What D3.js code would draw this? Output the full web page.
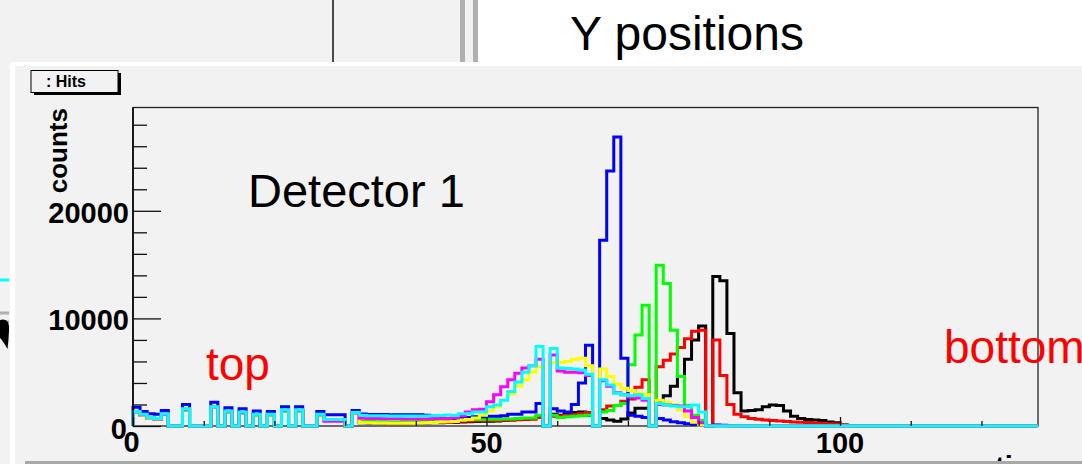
<!DOCTYPE html>
<html><head><meta charset="utf-8">
<script src="https://cdn.jsdelivr.net/npm/d3@7"></script>
<style>
html,body{margin:0;padding:0;background:#fff;overflow:hidden;}
svg{display:block;font-family:"Liberation Sans",Arial,Helvetica,sans-serif;}
</style>
</head><body>
<svg id="chart" width="1082" height="464"></svg>
<script>
// ---------------- data ----------------
const xTickMajor = [0, 50, 100];
const xTickMinor = [10, 20, 30, 40, 60, 70, 80, 90, 110, 120];
const yTickMajor = [0, 10000, 20000];
const yTickMinor = [2000, 4000, 6000, 8000, 12000, 14000, 16000, 18000, 22000, 24000, 26000, 28000];
const xDomain = [0, 128];
const yDomain = [0, 29600];
const seriesNames = ["black", "red", "green", "blue", "yellow", "magenta", "cyan"];
const seriesColors = ["#000000", "#ff0000", "#00ff00", "#0000ff", "#ffff00", "#ff00ff", "#00ffff"];

const black = [
 1250,1000,720,620,1070,0,0,1520,0,0,0,1720,0,1320,0,1220,
 0,1020,0,1020,0,1420,0,1420,0,0,1020,500,500,500,0,1170,
 300,290,280,270,260,260,260,270,280,290,300,310,320,330,380,400,
 420,430,450,470,500,550,600,650,700,850,0,1100,1000,1150,1250,1300,
 1000,0,700,550,450,650,1200,1650,1650,0,2300,2800,3700,4600,6200,8000,
 9300,0,13900,13500,8600,3100,1400,1450,1500,1800,1950,1900,1400,900,700,600,
 550,500,380,300,100,50,0,0,0,0,0,0,0,0,0,0,
 0,0,0,0,0,0,0,0,0,0,0,0,0,0,0,0];
const red = [
 1250,1000,720,620,1070,0,0,1520,0,0,0,1720,0,1320,0,1220,
 0,1020,0,1020,0,1420,0,1420,0,0,1020,500,500,500,0,1170,
 350,340,330,320,310,300,300,300,310,320,330,340,350,370,450,470,
 480,490,500,520,530,550,580,600,620,800,0,900,950,1000,1050,1150,
 1250,0,1500,1850,1900,2300,2500,3600,4300,0,5500,6100,6700,7300,8100,8800,
 8900,0,8000,4700,2000,1100,850,700,620,560,500,460,420,380,350,320,
 290,260,220,180,100,50,0,0,0,0,0,0,0,0,0,0,
 0,0,0,0,0,0,0,0,0,0,0,0,0,0,0,0];
const green = [
 1250,1000,720,620,1070,0,0,1520,0,0,0,1720,0,1320,0,1220,
 0,1020,0,1020,0,1420,0,1420,0,0,1020,500,500,500,0,1170,
 420,410,400,390,380,380,390,400,420,440,470,480,430,450,560,580,
 600,600,620,620,640,650,700,750,750,1000,0,1000,800,850,900,950,
 1000,0,1300,1450,1900,2100,5700,8450,11230,0,14950,13250,8900,4600,1900,1000,
 500,0,80,50,30,0,0,0,0,0,0,0,0,0,0,0,
 0,0,0,0,0,0,0,0,0,0,0,0,0,0,0,0,
 0,0,0,0,0,0,0,0,0,0,0,0,0,0,0,0];
const blue = [
 1750,1350,1150,1100,1450,0,0,2000,0,0,0,2200,0,1700,0,1600,
 0,1400,0,1350,0,1800,0,1800,0,0,1350,1050,1050,1050,0,1450,
 1120,1070,1070,1070,1050,1050,1040,1040,1040,1000,900,750,600,650,800,800,
 850,850,900,900,950,1100,1100,1300,1300,2100,0,1600,1400,1300,2000,4000,
 7500,0,17270,23700,26860,6300,1000,900,800,0,700,550,400,300,200,150,
 100,0,100,60,30,0,0,0,0,0,0,0,0,0,0,0,
 0,0,0,0,0,0,0,0,0,0,0,0,0,0,0,0,
 0,0,0,0,0,0,0,0,0,0,0,0,0,0,0,0];
const yellow = [
 1250,1000,720,620,1070,0,0,1520,0,0,0,1720,0,1320,0,1220,
 0,1020,0,1020,0,1420,0,1420,0,0,1020,500,500,500,0,1170,
 320,300,280,270,260,250,250,260,280,300,330,370,400,420,550,600,
 750,1000,1400,1800,2400,3000,3700,4300,5000,5500,0,5900,5900,6000,6200,6300,
 5600,0,5300,4600,3900,3500,3300,3100,2900,0,2400,2200,2000,1500,900,350,
 100,0,0,0,0,0,0,0,0,0,0,0,0,0,0,0,
 0,0,0,0,0,0,0,0,0,0,0,0,0,0,0,0,
 0,0,0,0,0,0,0,0,0,0,0,0,0,0,0,0];
const magenta = [
 1300,1050,760,660,1100,0,0,1560,0,0,0,1760,0,1360,0,1260,
 0,1060,0,1060,0,1460,0,1460,0,0,1060,450,450,450,0,1200,
 720,700,690,680,680,670,660,660,650,660,680,690,700,750,950,1300,
 1500,1550,2250,2900,3650,4300,4900,5400,5600,6200,0,6600,5100,5000,5000,4950,
 4700,0,4200,3700,3100,2900,2700,2600,2400,0,2000,1950,1900,1850,1400,800,
 300,0,0,0,0,0,0,0,0,0,0,0,0,0,0,0,
 0,0,0,0,0,0,0,0,0,0,0,0,0,0,0,0,
 0,0,0,0,0,0,0,0,0,0,0,0,0,0,0,0];
const cyan = [
 1350,1100,800,700,1150,0,0,1600,0,0,0,1800,0,1400,0,1300,
 0,1100,0,1100,0,1500,0,1500,0,0,1100,600,600,600,0,1250,
 1000,950,950,950,930,930,920,920,920,930,950,980,1020,980,1150,1150,
 1300,1300,1800,1950,2400,3200,4100,5000,5600,7400,0,7200,5400,5350,5300,5200,
 4800,0,4300,3800,3050,2900,2800,2900,2550,0,2100,1950,1850,1800,1800,1950,
 1300,0,0,0,0,0,0,0,0,0,0,0,0,0,0,0,
 0,0,0,0,0,0,0,0,0,0,0,0,0,0,0,0,
 0,0,0,0,0,0,0,0,0,0,0,0,0,0,0,0];
const seriesValues = [black, red, green, blue, yellow, magenta, cyan];

// ---------------- layout ----------------
const svg = d3.select("#chart");
const W = 1082, H = 464;
const frame = {left: 133, right: 1038, top: 107.5, bottom: 426};
const x = d3.scaleLinear().domain(xDomain).range([frame.left, frame.right]);
const y = d3.scaleLinear().domain(yDomain).range([frame.bottom, frame.top]);
const bg = "#f2f2f2";

// slide background pieces
svg.append("rect").attr("x",0).attr("y",0).attr("width",W).attr("height",H).attr("fill","#fff");
svg.append("rect").attr("x",0).attr("y",0).attr("width",478).attr("height",62).attr("fill",bg);
svg.append("line").attr("x1",333).attr("x2",333).attr("y1",0).attr("y2",62).attr("stroke","#111").attr("stroke-width",1.5);
svg.append("rect").attr("x",460).attr("y",0).attr("width",5).attr("height",62).attr("fill","#b0b0b0");
svg.append("rect").attr("x",473).attr("y",0).attr("width",5).attr("height",62).attr("fill","#b0b0b0");
svg.append("text").attr("x",570).attr("y",50).attr("font-size",48).attr("fill","#000").text("Y positions");

// left stray fragments
svg.append("rect").attr("x",0).attr("y",0).attr("width",10).attr("height",H).attr("fill",bg);
svg.append("line").attr("x1",0).attr("x2",9).attr("y1",280).attr("y2",280).attr("stroke","#00ffff").attr("stroke-width",3);
svg.append("line").attr("x1",0).attr("x2",9).attr("y1",313).attr("y2",313).attr("stroke","#b0b0b0").attr("stroke-width",3);
svg.append("line").attr("x1",0).attr("x2",9).attr("y1",322).attr("y2",322).attr("stroke","#b0b0b0").attr("stroke-width",3);
svg.append("path").attr("d","M0,320 Q8,318 9,326 L9,331 Q8.5,341 7.5,349 Q3,341 0,338 Z").attr("fill","#000");

// ROOT canvas
svg.append("rect").attr("x",10).attr("y",62).attr("width",W-10).attr("height",H-62).attr("fill","#fff");
svg.append("rect").attr("x",15).attr("y",66).attr("width",W-15).attr("height",H-66).attr("fill",bg);
svg.append("rect").attr("x",20).attr("y",70).attr("width",W-20).attr("height",H-70).attr("fill",bg);

// stat/title box ": Hits"
svg.append("rect").attr("x",34).attr("y",73).attr("width",87).attr("height",22).attr("fill","#000");
svg.append("rect").attr("x",31).attr("y",70.5).attr("width",87).attr("height",22).attr("fill",bg).attr("stroke","#000").attr("stroke-width",1);
svg.append("text").attr("x",66).attr("y",87).attr("text-anchor","middle").attr("font-size",16).attr("font-weight","bold").text(": Hits");

// frame
svg.append("rect").attr("x",frame.left).attr("y",frame.top).attr("width",frame.right-frame.left).attr("height",frame.bottom-frame.top)
  .attr("fill","none").attr("stroke","#222").attr("stroke-width",1.3);

// histograms
const edges = d3.range(xDomain[0], xDomain[1] + 1);
const lineGen = d3.line().x(d => x(d[0])).y(d => y(d[1])).curve(d3.curveStepAfter);
const hg = svg.append("g");
seriesValues.forEach((vals, k) => {
  const pts = [[edges[0], 0]];
  vals.forEach((v, i) => pts.push([edges[i], v]));
  pts.push([edges[vals.length], vals[vals.length - 1]]);
  pts.push([edges[vals.length], 0]);
  hg.append("path").attr("d", lineGen(pts)).attr("fill","none")
    .attr("stroke", seriesColors[k]).attr("stroke-width",3).attr("stroke-linejoin","miter")
    .attr("class","hist-" + seriesNames[k]);
});

// axes lines (drawn on top)
svg.append("line").attr("x1",frame.left).attr("x2",frame.left).attr("y1",frame.top).attr("y2",frame.bottom).attr("stroke","#000").attr("stroke-width",1.5);

// y ticks (inside, to the right)
const yAxisMajor = d3.axisRight(y).tickValues(yTickMajor).tickSize(28).tickFormat("");
const yAxisMinor = d3.axisRight(y).tickValues(yTickMinor).tickSize(14).tickFormat("");
[yAxisMajor, yAxisMinor].forEach(ax => {
  const g = svg.append("g").attr("transform", `translate(${frame.left},0)`).call(ax);
  g.select(".domain").remove();
  g.selectAll("line").attr("stroke","#111").attr("stroke-width",1.3);
});
// x ticks (inside, upward)
const xAxisMajor = d3.axisTop(x).tickValues(xTickMajor).tickSize(9).tickFormat("");
const xAxisMinor = d3.axisTop(x).tickValues(xTickMinor).tickSize(5).tickFormat("");
[xAxisMajor, xAxisMinor].forEach(ax => {
  const g = svg.append("g").attr("transform", `translate(0,${frame.bottom})`).call(ax);
  g.select(".domain").remove();
  g.selectAll("line").attr("stroke","#111").attr("stroke-width",1.3);
});

// tick labels
const lab = svg.append("g").attr("font-size",29).attr("font-weight","bold").attr("fill","#000");
yTickMajor.forEach(v => {
  lab.append("text").attr("x", v === 0 ? 127 : 129).attr("y", y(v) + (v === 0 ? 13 : 12)).attr("text-anchor","end").text(v);
});
xTickMajor.forEach(v => {
  lab.append("text").attr("x", x(v) + (v === 0 ? -1.5 : 0)).attr("y", v === 0 ? 452 : 453).attr("text-anchor","middle").text(v);
});
// axis titles
svg.append("text").attr("transform","translate(67,108) rotate(-90)").attr("text-anchor","end")
  .attr("font-size",26).attr("font-weight","bold").text("counts");
svg.append("text").attr("x",995).attr("y",477).attr("font-size",29).attr("font-weight","bold").text("time");
svg.append("rect").attr("x",25).attr("y",461).attr("width",W-25).attr("height",3).attr("fill","#a8a8a8");

// annotations
svg.append("text").attr("x",248).attr("y",207).attr("font-size",47).attr("fill","#000").text("Detector 1");
svg.append("text").attr("x",206).attr("y",380).attr("font-size",46).attr("fill","#ff0000").text("top");
svg.append("text").attr("x",944).attr("y",363).attr("font-size",46).attr("fill","#ff0000").text("bottom");
</script>
</body></html>
